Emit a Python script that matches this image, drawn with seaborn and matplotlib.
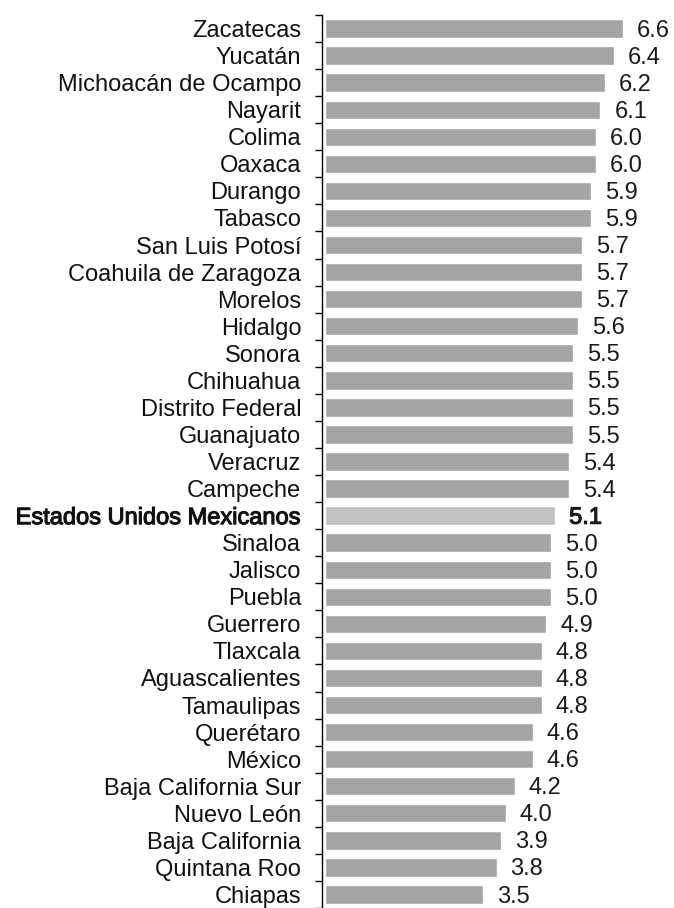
import matplotlib
matplotlib.use("Agg")
import matplotlib.pyplot as plt
import matplotlib.patheffects as pe
import numpy as np
import pandas as pd
import seaborn as sns

estados = [
    "Zacatecas", "Yucatán", "Michoacán de Ocampo", "Nayarit", "Colima", "Oaxaca",
    "Durango", "Tabasco", "San Luis Potosí", "Coahuila de Zaragoza", "Morelos",
    "Hidalgo", "Sonora", "Chihuahua", "Distrito Federal", "Guanajuato", "Veracruz",
    "Campeche", "Estados Unidos Mexicanos", "Sinaloa", "Jalisco", "Puebla",
    "Guerrero", "Tlaxcala", "Aguascalientes", "Tamaulipas", "Querétaro", "México",
    "Baja California Sur", "Nuevo León", "Baja California", "Quintana Roo", "Chiapas",
]
valores = [
    6.6, 6.4, 6.2, 6.1, 6.0, 6.0, 5.9, 5.9, 5.7, 5.7, 5.7, 5.6, 5.5, 5.5, 5.5, 5.5,
    5.4, 5.4, 5.1, 5.0, 5.0, 5.0, 4.9, 4.8, 4.8, 4.8, 4.6, 4.6, 4.2, 4.0, 3.9, 3.8, 3.5,
]
nacional = "Estados Unidos Mexicanos"

df = pd.DataFrame({"estado": estados, "valor": valores})
colores = ["#c2c2c2" if e == nacional else "#a4a4a4" for e in estados]

sns.set_style("white")
plt.rcParams["font.family"] = ["Liberation Sans", "DejaVu Sans"]

# negrita "falsa": trazo fino, sin ensanchar el texto
negrita = [pe.withStroke(linewidth=0.8, foreground="#111111")]

fig = plt.figure(figsize=(6.74, 9.08), dpi=100)
# eje vertical en x~322 px, arriba en y~15 px
ax = fig.add_axes([322 / 674, 0.0, 1 - 322 / 674, 1 - 15 / 908])

sns.barplot(data=df, x="valor", y="estado", hue="estado", palette=colores,
            legend=False, width=0.68, ax=ax, orient="h")

for i, v in enumerate(valores):
    t = ax.annotate(f"{v:.1f}", xy=(v, i), xytext=(10, -1.5), textcoords="offset points",
                    va="center", ha="left", fontsize=17, color="#1a1a1a")
    if estados[i] == nacional:
        t.set_path_effects(negrita)

ax.set_xlim(-0.066, 7.73)
ax.set_ylim(len(estados) - 0.5, -0.5)
ax.set_xlabel("")
ax.set_ylabel("")
ax.set_xticks([])
ax.set_yticks(np.arange(len(estados)))
ax.set_yticklabels(estados, fontsize=17, color="#111111")
for lbl in ax.get_yticklabels():
    if lbl.get_text() == nacional:
        lbl.set_path_effects(negrita)
ax.set_yticks(np.arange(len(estados) + 1) - 0.5, minor=True)
ax.tick_params(axis="y", which="major", length=0, pad=15)
ax.tick_params(axis="y", which="minor", length=5, width=1, color="black", left=True)

for s in ["top", "right", "bottom"]:
    ax.spines[s].set_visible(False)
ax.spines["left"].set_color("black")
ax.spines["left"].set_linewidth(1)

fig.savefig("out.png", dpi=100)
